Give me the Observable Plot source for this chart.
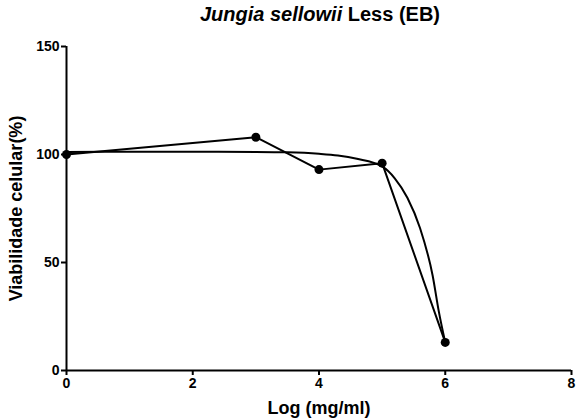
<!DOCTYPE html>
<html>
<head>
<meta charset="utf-8">
<script src="https://cdn.jsdelivr.net/npm/d3@7"></script>
<script src="https://cdn.jsdelivr.net/npm/@observablehq/plot@0.6"></script>
<style>
  html, body { margin: 0; padding: 0; background: #fff; }
  #wrap { width: 576px; height: 420px; font-family: Arial, "Liberation Sans", sans-serif; }
  #title { height: 34px; box-sizing: border-box; padding-top: 4px; padding-left: 64px; width: 576px; text-align: center; font-weight: bold; font-size: 20px; line-height: 20px; color: #000; white-space: nowrap; }
  #chart svg text { font-weight: bold; font-family: Arial, "Liberation Sans", sans-serif; fill: #000; }
</style>
</head>
<body>
<div id="wrap">
  <div id="title"><span style="font-style:italic">Jungia sellowii</span> Less (EB)</div>
  <div id="chart"></div>
</div>
<script>
// Observed data points
const doseLog = [0, 3, 4, 5, 6];
const viability = [100, 108, 93, 96, 13];

// Fitted curve
const fitX = [0, 1, 2, 3, 3.5, 4, 4.3, 4.6, 5, 5.2, 5.4, 5.6, 5.8, 5.9, 6];
const fitY = [101.2, 101.3, 101.3, 101.2, 101, 100.3, 99.5, 98, 94.5, 89, 80, 66, 44, 27, 13];

// Axis ticks
const xTicks = [0, 2, 4, 6, 8];
const yTicks = [0, 50, 100, 150];

const pts = doseLog.map((x, i) => ({x, y: viability[i]}));
const fit = fitX.map((x, i) => ({x, y: fitY[i]}));

const plot = Plot.plot({
  width: 576,
  height: 386,
  marginLeft: 66,
  marginRight: 5,
  marginTop: 12,
  marginBottom: 50,
  style: {fontFamily: "Arial, 'Liberation Sans', sans-serif", fontSize: "14px", background: "#fff", overflow: "visible"},
  x: {domain: [0, 8]},
  y: {domain: [0, 150]},
  marks: [
    Plot.axisX({ticks: xTicks, tickSize: 5, tickPadding: 3, label: null, strokeWidth: 2, fontSize: 14}),
    Plot.axisY({ticks: yTicks, tickSize: 5, tickPadding: 2, label: null, strokeWidth: 2, fontSize: 14}),
    Plot.ruleX([0], {y1: 0, y2: 150, stroke: "#000", strokeWidth: 2}),
    Plot.ruleY([0], {x1: 0, x2: 8, stroke: "#000", strokeWidth: 2}),
    Plot.line(fit, {x: "x", y: "y", curve: "monotone-x", stroke: "#000", strokeWidth: 2}),
    Plot.line(pts, {x: "x", y: "y", stroke: "#000", strokeWidth: 2}),
    Plot.dot(pts, {x: "x", y: "y", r: 4.5, fill: "#000"}),
    Plot.text(["Log (mg/ml)"], {frameAnchor: "bottom", dy: 38, lineAnchor: "middle", textAnchor: "middle", fontSize: 18, fontWeight: "bold"}),
    Plot.text(["Viabilidade celular(%)"], {frameAnchor: "left", dx: -50, dy: 0, textAnchor: "middle", lineAnchor: "middle", rotate: -90, fontSize: 18, fontWeight: "bold"})
  ]
});
document.getElementById("chart").appendChild(plot);
</script>
</body>
</html>
